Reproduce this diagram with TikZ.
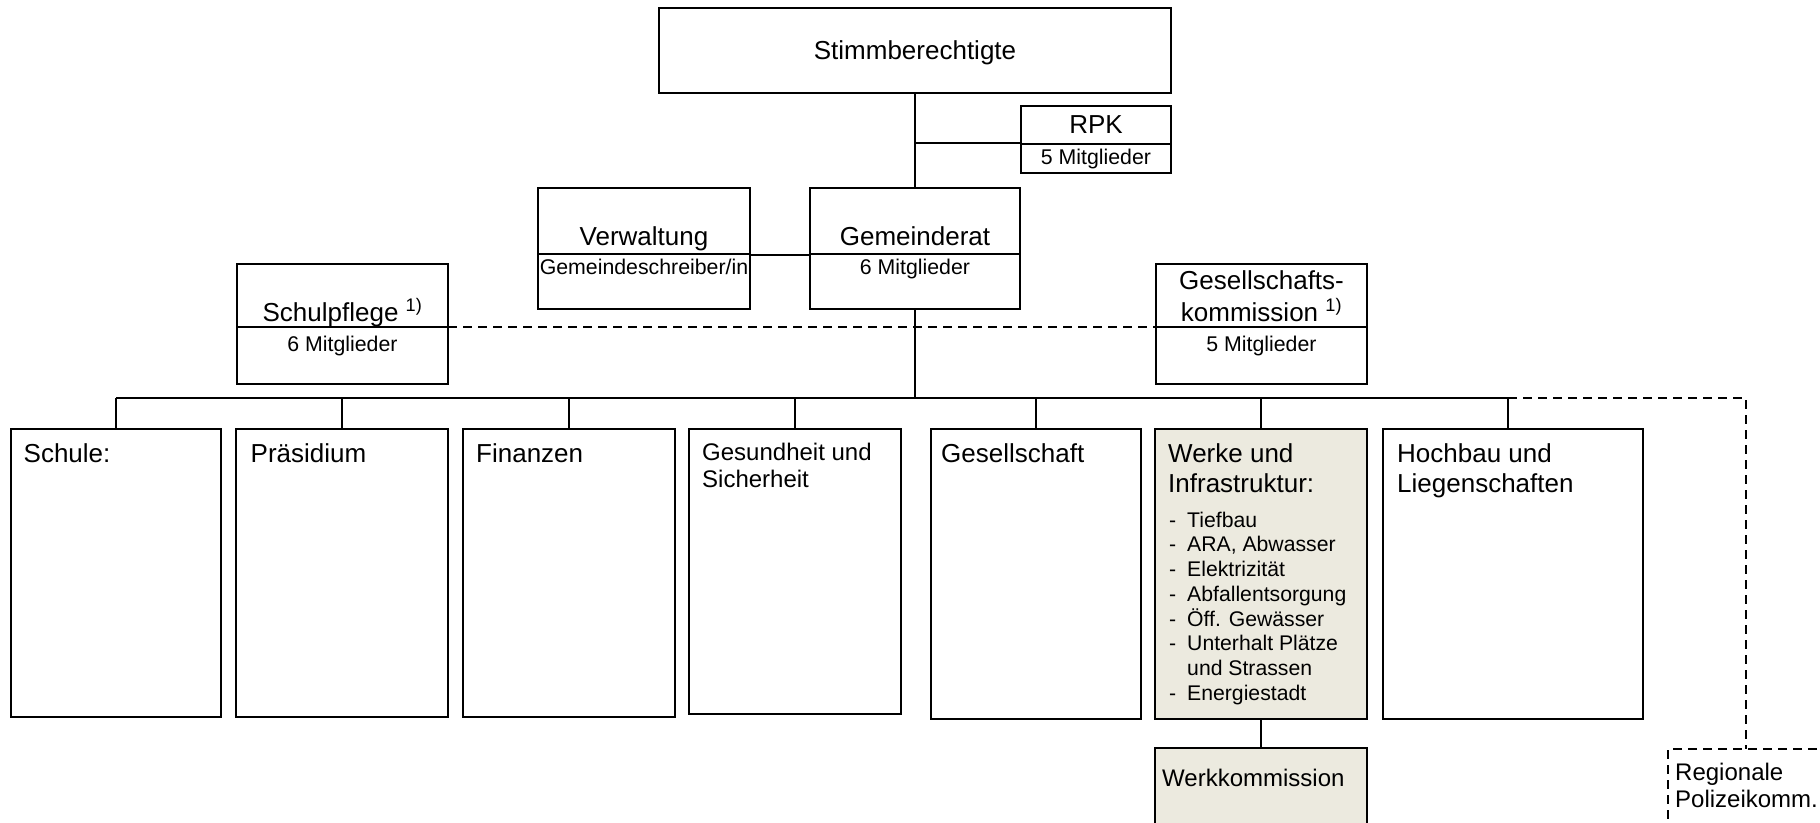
\documentclass[tikz,border=0pt]{standalone}
\usepackage{fontspec}
\setmainfont{Liberation Sans}
\definecolor{werkfill}{HTML}{ECEADF}
\newcommand\mkbox[6]{%
  \pgfmathsetmacro\bw{#5-#3}\pgfmathsetmacro\bh{#6-#4}%
  \node[#1, minimum width=\bw pt, minimum height=\bh pt] (#2) at ({(#3+#5)/2},{(#4+#6)/2}) {};}
\begin{document}
\begin{tikzpicture}[x=1pt,y=-1pt,
  box/.style={draw, line width=2.2pt, inner sep=0pt, outer sep=0pt},
  fillbox/.style={box, fill=werkfill},
  dbox/.style={draw, line width=1.8pt, dash pattern=on 9pt off 6pt, inner sep=0pt, outer sep=0pt},
  conn/.style={line width=2pt},
  dconn/.style={line width=1.8pt, dash pattern=on 9pt off 6pt},
  divl/.style={line width=2.2pt},
  lbl/.style={anchor=base, inner sep=0pt},
  lbll/.style={anchor=base west, inner sep=0pt},
  big/.style={font=\fontsize{26}{30}\selectfont},
  mid/.style={font=\fontsize{24}{28}\selectfont},
  small/.style={font=\fontsize{21.3}{25}\selectfont},
  list/.style={font=\fontsize{21.2}{24}\selectfont}]
\useasboundingbox (0,0) rectangle (1820,822);
\fill[white] (0,0) rectangle (1820,822);

% --- boxes ---
\mkbox{box}{stimm}{659}{8}{1171}{93}
\mkbox{box}{rpk}{1021}{106}{1171}{173}
\mkbox{box}{verw}{538}{188}{750}{309}
\mkbox{box}{gr}{810}{188}{1020}{309}
\mkbox{box}{spf}{237}{264}{448}{384}
\mkbox{box}{gk}{1156}{264}{1367}{384}
\mkbox{box}{schule}{11}{429}{221}{717}
\mkbox{box}{praes}{236}{429}{448}{717}
\mkbox{box}{fin}{463}{429}{675}{717}
\mkbox{box}{gesund}{689}{429}{901}{714}
\mkbox{box}{gesell}{931}{429}{1141}{719}
\mkbox{fillbox}{werke}{1155}{429}{1367}{719}
\mkbox{box}{hoch}{1383}{429}{1643}{719}
\mkbox{fillbox}{werkkom}{1155}{748}{1367}{826}
\mkbox{dbox}{regio}{1668}{749}{1824}{826}

% --- dividers ---
\draw[divl] (rpk.west |- 0,144) -- (rpk.east |- 0,144);
\draw[divl] (verw.west |- 0,254) -- (verw.east |- 0,254);
\draw[divl] (gr.west |- 0,254) -- (gr.east |- 0,254);
\draw[divl] (spf.west |- 0,327) -- (spf.east |- 0,327);
\draw[divl] (gk.west |- 0,327) -- (gk.east |- 0,327);

% --- connectors ---
\coordinate (busL) at (116,398);
\coordinate (busR) at (1508,398);
\coordinate (dcorner) at (1746,398);
\draw[conn] (stimm.south) -- (gr.north);
\draw[conn] (stimm.south |- 0,143) -- (rpk.west |- 0,143);
\draw[conn] (verw.east |- 0,255) -- (gr.west |- 0,255);
\draw[dconn] (spf.east |- 0,327) -- (gk.west |- 0,327);
\draw[conn] (gr.south) -- (gr.south |- busL);
\draw[conn] (busL) -- (busR);
\draw[conn] (busL) -- (schule.north);
\draw[conn] (praes.north |- busL) -- (praes.north);
\draw[conn] (fin.north |- busL) -- (fin.north);
\draw[conn] (gesund.north |- busL) -- (gesund.north);
\draw[conn] (gesell.north |- busL) -- (gesell.north);
\draw[conn] (werke.north |- busL) -- (werke.north);
\draw[conn] (busR) -- (busR |- hoch.north);
\draw[conn] (werke.south) -- (werkkom.north);
\draw[dconn] (busR) -- (dcorner) -- (regio.north);

% --- texts ---
\node[lbl,big] (t-stimm) at (915,59) {Stimmberechtigte};
\node[lbl,big] (t-rpk) at (1096,133) {RPK};
\node[lbl,small] (t-rpk2) at (1096,164) {5 Mitglieder};
\node[lbl,big] (t-verw) at (644,245) {Verwaltung};
\node[lbl,small] (t-verw2) at (644,274) {Gemeindeschreiber/in};
\node[lbl,big] (t-gr) at (915,245) {Gemeinderat};
\node[lbl,small] (t-gr2) at (915,274) {6 Mitglieder};
\node[lbl,big] (t-spf) at (342.5,321) {Schulpflege \textsuperscript{1)}};
\node[lbl,small] (t-spf2) at (342.5,351) {6 Mitglieder};
\node[lbl,big] (t-gk) at (1261.5,289) {Gesellschafts-};
\node[lbl,big] (t-gk1) at (1261.5,321) {kommission \textsuperscript{1)}};
\node[lbl,small] (t-gk2) at (1261.5,351) {5 Mitglieder};

\node[lbll,big] (t-schule) at (23.5,462) {Schule:};
\node[lbll,big] (t-praes) at (250.5,462) {Präsidium};
\node[lbll,big] (t-fin) at (476,462) {Finanzen};
\node[lbll,mid] (t-ges1) at (702,460) {Gesundheit und};
\node[lbll,mid] (t-ges2) at (702,487) {Sicherheit};
\node[lbll,big] (t-gesell) at (941,462) {Gesellschaft};
\node[lbll,big] (t-werke1) at (1168,462) {Werke und};
\node[lbll,big] (t-werke2) at (1168,492) {Infrastruktur:};
\foreach \yy/\tx/\dd [count=\i] in {527/Tiefbau/-, 551.8/{ARA, Abwasser}/-, 576.5/Elektrizität/-, 601.3/Abfallentsorgung/-, 626/Öff. Gewässer/-, 650.8/Unterhalt Plätze/-, 675.6/und Strassen/{}, 700.3/Energiestadt/-}{
  \node[lbll,list] (d\i) at (1169,\yy) {\dd};
  \node[lbll,list] (l\i) at (1187,\yy) {\tx};
}
\node[lbll,big] (t-hoch1) at (1397,462) {Hochbau und};
\node[lbll,big] (t-hoch2) at (1397,492) {Liegenschaften};
\node[lbll,mid] (t-werkkom) at (1162,786) {Werkkommission};
\node[lbll,mid] (t-regio1) at (1675,780) {Regionale};
\node[lbll,mid] (t-regio2) at (1675,807) {Polizeikomm.};
\end{tikzpicture}
\end{document}
